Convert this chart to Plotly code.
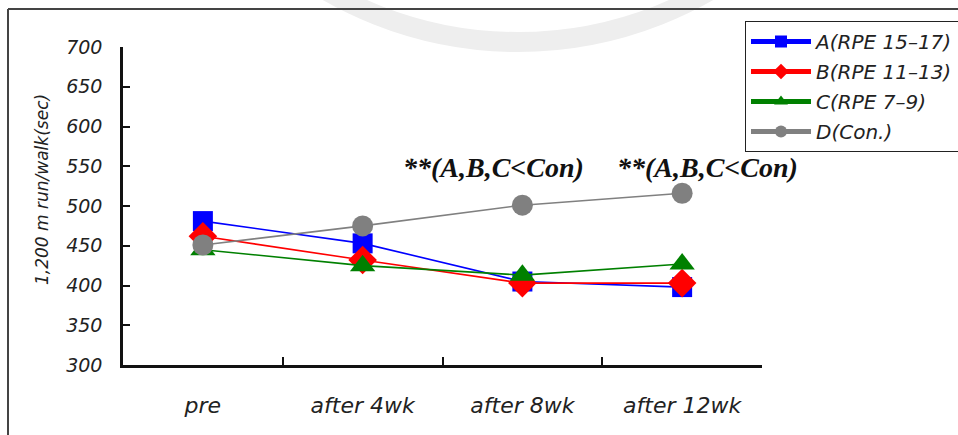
import plotly.graph_objects as go

# Time points and 1,200 m run/walk times (sec) for each group
periods = ["pre", "after 4wk", "after 8wk", "after 12wk"]
group_a = [481, 453, 405, 398]
group_b = [462, 432, 403, 403]
group_c = [445, 425, 413, 427]
group_d = [451, 475, 501, 516]

names = ["A(RPE 15\u201317)", "B(RPE 11\u201313)", "C(RPE 7\u20139)", "D(Con.)"]
colors = ["#0000ff", "#ff0000", "#008000", "#808080"]
symbols = ["square", "diamond", "triangle-up", "circle"]
sizes = [20, 22, 22, 21]
series = [group_a, group_b, group_c, group_d]

sig_label = "**(A,B,C<Con)"
y_title = "1,200 m run/walk(sec)"

W, H = 958, 435
L, R, T, B = 123, 196, 47, 70
pw, ph = W - L - R, H - T - B


def px(x):
    return (x - L) / pw


def py(y):
    return (H - B - y) / ph


fig = go.Figure()
for i, (name, vals) in enumerate(zip(names, series)):
    fig.add_trace(go.Scatter(
        x=periods, y=vals, name=name, mode="lines+markers",
        legendgroup=name,
        line=dict(color=colors[i], width=1.6),
        marker=dict(symbol=symbols[i], size=sizes[i], color=colors[i],
                    line=dict(width=0)),
        cliponaxis=False,
    ))

sans = "DejaVu Sans, Verdana, sans-serif"

fig.update_layout(
    width=W, height=H,
    margin=dict(l=L, r=R, t=T, b=B, autoexpand=False),
    paper_bgcolor="white",
    plot_bgcolor="rgba(0,0,0,0)",
    showlegend=True,
    legend=dict(
        x=px(745), y=py(21), xanchor="left", yanchor="top",
        bgcolor="white", bordercolor="#222222", borderwidth=1,
        font=dict(family=sans, size=20, color="#222222", style="italic"),
        tracegroupgap=1, itemsizing="constant", itemwidth=60,
    ),
    xaxis=dict(
        type="category", range=[-0.5, 3.5], tickson="boundaries",
        ticks="inside", ticklen=8, tickwidth=2, tickcolor="#111111",
        showline=True, linecolor="#111111", linewidth=2.5,
        showgrid=False, zeroline=False,
        ticklabelstandoff=19,
        tickfont=dict(family=sans, size=22, color="#222222", style="italic"),
    ),
    yaxis=dict(
        range=[300, 700], tickvals=list(range(300, 701, 50)),
        ticks="inside", ticklen=7, tickwidth=2, tickcolor="#111111",
        showline=True, linecolor="#111111", linewidth=2.5,
        showgrid=False, zeroline=False,
        ticklabelstandoff=14,
        tickfont=dict(family=sans, size=19, color="#222222", style="italic"),
    ),
)

# Significance notes above the later time points
for xc in (1.82, 3.16):
    fig.add_annotation(
        x=xc, y=549, xref="x", yref="y", text=sig_label, showarrow=False,
        xanchor="center", yanchor="middle",
        font=dict(family="Liberation Serif, Times New Roman, serif", size=28,
                  color="#111111", weight="bold", style="italic"),
    )

# Axis title
fig.add_annotation(
    x=px(42), y=py(190), xref="paper", yref="paper", text=y_title,
    showarrow=False, textangle=-90, xanchor="center", yanchor="middle",
    font=dict(family=sans, size=17, color="#222222", style="italic"),
)

# Faint circular watermark behind the chart
cx, cy, rad = 518, -340, 382
fig.add_shape(
    type="circle", xref="paper", yref="paper", layer="below",
    x0=px(cx - rad), x1=px(cx + rad), y0=py(cy + rad), y1=py(cy - rad),
    line=dict(color="#eeeeee", width=20), fillcolor="rgba(0,0,0,0)",
)

# Outer frame (left and top edges)
fig.add_shape(type="line", xref="paper", yref="paper",
              x0=px(8), x1=px(8), y0=py(9), y1=py(440),
              line=dict(color="#444444", width=2))
fig.add_shape(type="line", xref="paper", yref="paper",
              x0=px(8), x1=px(960), y0=py(9), y1=py(9),
              line=dict(color="#444444", width=2))

fig.write_html("out.html")
